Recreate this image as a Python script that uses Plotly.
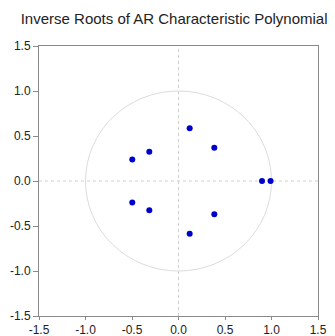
import plotly.graph_objects as go

title = "Inverse Roots of AR Characteristic Polynomial"
root_re = [0.12, 0.385, 0.898, 0.99, 0.385, 0.12, -0.497, -0.314, -0.497, -0.314]
root_im = [0.585, 0.37, 0.0, 0.0, -0.37, -0.585, 0.24, 0.325, -0.24, -0.325]
tick_vals = [-1.5, -1.0, -0.5, 0.0, 0.5, 1.0, 1.5]
tick_text = ["-1.5", "-1.0", "-0.5", "0.0", "0.5", "1.0", "1.5"]

fig = go.Figure()
fig.add_trace(go.Scatter(x=root_re, y=root_im, mode="markers",
                         marker=dict(color="#0000CD", size=6),
                         showlegend=False, hoverinfo="skip"))

# unit circle and zero reference lines
fig.add_shape(type="circle", xref="x", yref="y", x0=-1, y0=-1, x1=1, y1=1,
              line=dict(color="#dcdcdc", width=1), layer="below")
fig.add_hline(y=0, line=dict(color="#cfcfcf", width=1, dash="dot"), layer="below")
fig.add_vline(x=0, line=dict(color="#cfcfcf", width=1, dash="dot"), layer="below")

axis_common = dict(range=[-1.5, 1.5], tickvals=tick_vals, ticktext=tick_text,
                   showgrid=False, zeroline=False, showline=True,
                   linecolor="#8a8a8a", linewidth=1, mirror=True,
                   ticks="outside", tickcolor="#8a8a8a",
                   automargin=False,
                   tickfont=dict(family="Liberation Sans, Arial", size=12, color="#222"))

# page body has an 8px default margin, so the figure is sized to fill the rest
fig.update_layout(
    width=327, height=328,
    margin=dict(l=31, r=17, t=38, b=20),
    paper_bgcolor="white", plot_bgcolor="white",
    title=dict(text=title, x=0.508, xanchor="center", y=0.968, yanchor="middle",
               font=dict(family="Liberation Sans, Arial", size=15, color="#222")),
    xaxis=dict(axis_common, ticklen=3),
    yaxis=dict(axis_common, ticklen=5),
)
fig.write_html("out.html")
